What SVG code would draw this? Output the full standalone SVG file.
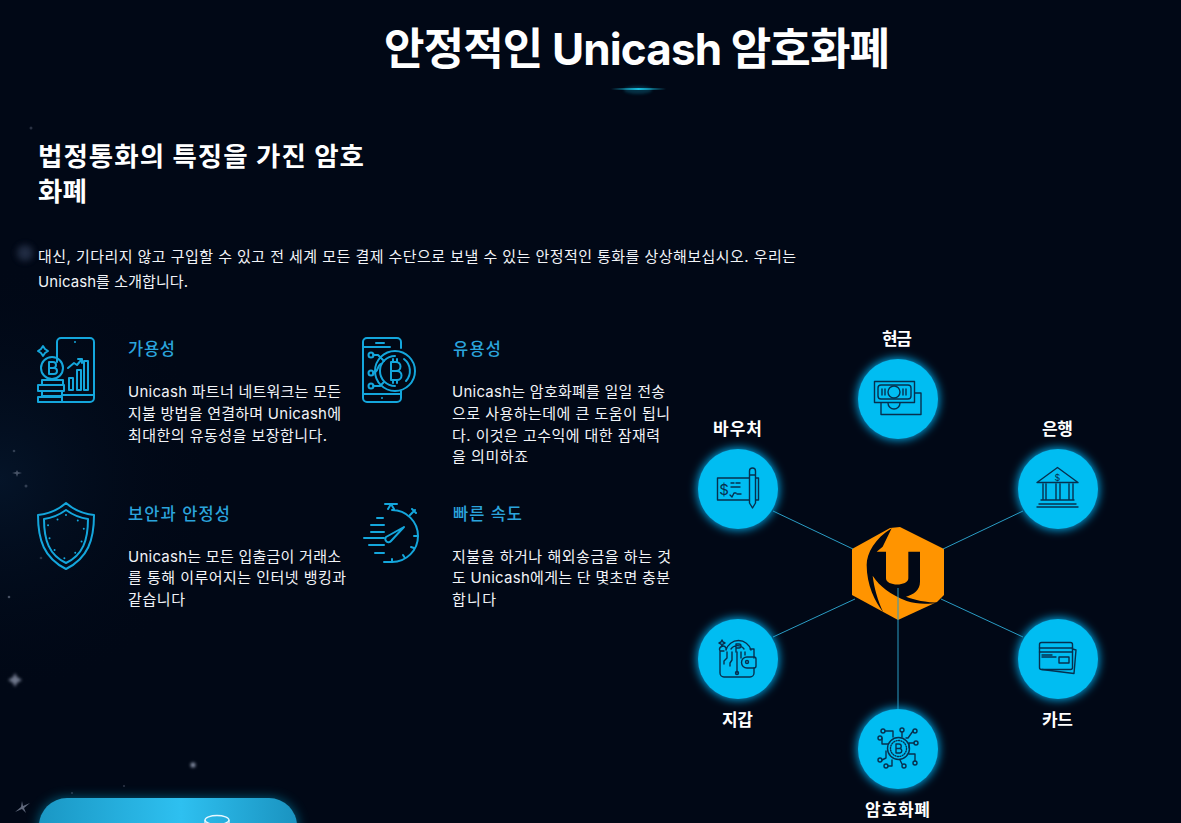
<svg xmlns="http://www.w3.org/2000/svg" width="1181" height="823" viewBox="0 0 1181 823">
<style>
text{font-family:"Inter","Noto Sans CJK KR",sans-serif;fill:#fff}
.h1{font-size:44px;font-weight:700}
.h2{font-size:26.500px;font-weight:700}
.p{font-size:15px;fill:#f2f4f8}
.ft{font-size:16.500px;fill:#2ba4dc;font-weight:500}
.lb{font-size:17px;font-weight:700}
.ic{fill:none;stroke:#14a6dc;stroke-width:2;stroke-linejoin:round;stroke-linecap:round}
.dk{fill:none;stroke:#06304f;stroke-width:1.400;stroke-linejoin:round;stroke-linecap:round}
.cn{stroke:#2a9cc4;stroke-width:1;fill:none}
.c{fill:#00bdf2}
.g{fill:#08a8e6;filter:url(#gl)}
.st{fill:#8a93a8}
</style>
<defs>
<filter id="gl" x="-40%" y="-40%" width="180%" height="180%"><feGaussianBlur stdDeviation="5"/></filter>
<filter id="gb" x="-20%" y="-60%" width="140%" height="220%"><feGaussianBlur stdDeviation="6"/></filter>
<filter id="sb" x="-100%" y="-100%" width="300%" height="300%"><feGaussianBlur stdDeviation="1.500"/></filter>
<filter id="sc" x="-100%" y="-100%" width="300%" height="300%"><feGaussianBlur stdDeviation="3"/></filter>
<radialGradient id="neb" cx="0" cy="480" r="220" gradientUnits="userSpaceOnUse"><stop offset="0" stop-color="#0b2a4a" stop-opacity=".35"/><stop offset="1" stop-color="#010816" stop-opacity="0"/></radialGradient>
<linearGradient id="btn" x1="0" x2="1" y1="0" y2="0"><stop offset="0" stop-color="#1a97c4"/><stop offset=".55" stop-color="#2ec0f0"/><stop offset="1" stop-color="#1a93c0"/></linearGradient>
<linearGradient id="ul" x1="0" x2="1" y1="0" y2="0"><stop offset="0" stop-color="#18b8d8" stop-opacity="0"/><stop offset=".5" stop-color="#18c0e0"/><stop offset="1" stop-color="#18b8d8" stop-opacity="0"/></linearGradient>
</defs>
<rect width="1181" height="823" fill="#010816"/>
<rect width="300" height="823" fill="url(#neb)"/>
<g id="stars">
<circle cx="25" cy="253" r="8" fill="#3a4a68" opacity=".55" filter="url(#sc)"/>
<circle class="st" cx="31" cy="128" r="1.500" opacity=".3"/>
<circle class="st" cx="9" cy="597" r="1.300" opacity=".5"/>
<path class="st" d="M15 673l2 4 5 3-5 3-2 4-2-4-5-3 5-3z" opacity=".8" filter="url(#sb)"/>
<circle class="st" cx="193" cy="765" r="2.500" filter="url(#sb)"/>
<path class="st" d="M22 801l1 5 7-3-6 5 2 5-4-4-7 3 6-5z" opacity=".7"/>
<path class="st" d="M17 470l1 2 4 1-4 1-1 3-1-3-4-1 4-1z" opacity=".5"/>
<circle class="st" cx="26" cy="486" r="1.500" opacity=".35"/>
<circle class="st" cx="14" cy="451" r="1.300" opacity=".35"/>
<circle class="st" cx="41" cy="558" r="1.300" opacity=".3"/>
<circle class="st" cx="124" cy="786" r="1" opacity=".35"/>
<circle class="st" cx="72" cy="793" r="1" opacity=".35"/>
</g>
<g id="title"><text class="h1" x="384" y="65" textLength="506" lengthAdjust="spacing">안정적인 Unicash 암호화폐</text>
<ellipse cx="638" cy="90" rx="14" ry="4" fill="#0a7f9f" opacity=".35" filter="url(#sb)"/>
<rect x="611" y="88" width="55" height="2" fill="url(#ul)"/></g>
<g id="intro">
<text class="h2" x="38" y="166" textLength="326" lengthAdjust="spacing">법정통화의 특징을 가진 암호</text>
<text class="h2" x="38" y="201" textLength="49" lengthAdjust="spacing">화폐</text>
<text class="p" x="38" y="262" textLength="758" lengthAdjust="spacing">대신, 기다리지 않고 구입할 수 있고 전 세계 모든 결제 수단으로 보낼 수 있는 안정적인 통화를 상상해보십시오. 우리는</text>
<text class="p" x="38" y="287" textLength="150" lengthAdjust="spacing">Unicash를 소개합니다.</text>
</g>
<g id="feature-availability">
<g class="ic"><path d="M57 362V342a4 4 0 0 1 4-4H90a4 4 0 0 1 4 4V398a4 4 0 0 1-4 4H62M62 395H94M75 342v0"/>
<circle cx="52" cy="368" r="11"/><path d="M49 362v12M49 362h4a3 3 0 0 1 0 6h-4M49 368h5a3 3 0 0 1 0 6h-5"/>
<rect x="42" y="380" width="21" height="5"/><rect x="38" y="385" width="26" height="6"/><rect x="42" y="391" width="20" height="5"/><rect x="38" y="397" width="24" height="5"/>
<rect x="69" y="378" width="4" height="12"/><rect x="77" y="370" width="4" height="20"/><rect x="84" y="361" width="4" height="29"/>
<path d="M68 368l6-5 3 2 5-6M78 359h4v4"/>
<path d="M43 346l2 3 3 2-3 2-2 3-2-3-3-2 3-2z"/></g>
<text class="ft" x="128" y="355" textLength="47" lengthAdjust="spacing">가용성</text>
<text class="p" x="128" y="397" textLength="213" lengthAdjust="spacing">Unicash 파트너 네트워크는 모든</text>
<text class="p" x="128" y="419" textLength="213" lengthAdjust="spacing">지불 방법을 연결하며 Unicash에</text>
<text class="p" x="128" y="441" textLength="199" lengthAdjust="spacing">최대한의 유동성을 보장합니다.</text>
</g>
<g id="feature-usability">
<g class="ic"><path d="M401 348V342a4 4 0 0 0-4-4H367a4 4 0 0 0-4 4V398a4 4 0 0 0 4 4H397a4 4 0 0 0 4-4V391M363 347H390M363 394H401M376 343h8M382 398v0"/>
<circle cx="395" cy="371" r="20"/><path d="M395 356a15 15 0 0 0 0 30M404 359a15 15 0 0 1 2 22"/>
<path d="M391 362v18M391 362h5a4 4 0 0 1 0 9h-5M391 371h6a4 4 0 0 1 0 9h-6M393 359v3M397 359v3M393 380v3M397 380v3"/>
<circle cx="371" cy="355" r="2.500"/><circle cx="371" cy="373" r="2.500"/><circle cx="371" cy="386" r="2.500"/>
<path d="M373 355h5l6 6M373 373c6-1 4-8 8-9M373 386h7l4-4"/></g>
<text class="ft" x="453" y="355" textLength="48" lengthAdjust="spacing">유용성</text>
<text class="p" x="452" y="397" textLength="213" lengthAdjust="spacing">Unicash는 암호화폐를 일일 전송</text>
<text class="p" x="452" y="419" textLength="218" lengthAdjust="spacing">으로 사용하는데에 큰 도움이 됩니</text>
<text class="p" x="452" y="441" textLength="208" lengthAdjust="spacing">다. 이것은 고수익에 대한 잠재력</text>
<text class="p" x="452" y="462" textLength="76" lengthAdjust="spacing">을 의미하죠</text>
</g>
<g id="feature-security">
<g class="ic"><path d="M66 503c8 7 18 11 28 12 0 25-6 43-28 54-22-11-28-29-28-54 10-1 20-5 28-12z"/>
<path d="M66 510c7 5 14 8 22 9 0 21-5 36-22 44-17-8-22-23-22-44 8-1 15-4 22-9z"/>
<path stroke-dasharray="0 13" d="M66 515c6 4 12 6 18 7 0 18-4 31-18 37-14-6-18-19-18-37 6-1 12-3 18-7z"/></g>
<text class="ft" x="128" y="520" textLength="102" lengthAdjust="spacing">보안과 안정성</text>
<text class="p" x="128" y="562" textLength="213" lengthAdjust="spacing">Unicash는 모든 입출금이 거래소</text>
<text class="p" x="128" y="583" textLength="218" lengthAdjust="spacing">를 통해 이루어지는 인터넷 뱅킹과</text>
<text class="p" x="128" y="605" textLength="57" lengthAdjust="spacing">같습니다</text>
</g>
<g id="feature-speed">
<g class="ic"><path d="M392 510a26 26 0 0 1 0 52h-8M385 504h12M388 509l3-5 3 5M410 515l5-5M412 509l4 4"/>
<path d="M377 518h6M371 525h13M371 532h13M364 538h20M369 545h15M375 553h9"/>
<path d="M404 527l-13 14a3 3 0 0 1-5-4z"/>
<path d="M392 562v-3M405 558l-2-3M414 548l-3-1M417 536h-3"/></g>
<text class="ft" x="453" y="520" textLength="69" lengthAdjust="spacing">빠른 속도</text>
<text class="p" x="452" y="562" textLength="219" lengthAdjust="spacing">지불을 하거나 해외송금을 하는 것</text>
<text class="p" x="452" y="583" textLength="218" lengthAdjust="spacing">도 Unicash에게는 단 몇초면 충분</text>
<text class="p" x="452" y="605" textLength="44" lengthAdjust="spacing">합니다</text>
</g>
<g id="node-logo">
<path d="M900 527L944 549V595L937 602L898 620L852 595V549L890 528z" fill="#ff9400"/>
<g transform="translate(840 515) scale(.3333)"><path fill="#010816" d="M155 40C105 70 80 115 80 150C80 210 105 260 130 292C112 255 102 215 98 182C120 215 150 238 200 258C230 268 260 268 300 263C255 262 225 255 198 245C222 238 240 225 240 200V110H205V190C205 215 138 215 138 190V110H110L128 95z"/></g>
</g>
<g id="connectors">
<path class="cn" d="M773 511L853 549M1023 511L943 549M773 637L855 599M1023 637L941 599M898 588V709"/>
</g>
<g id="node-cash"><circle class="g" cx="898" cy="399" r="41"/><circle class="c" cx="898" cy="399" r="40"/>
<g class="dk"><rect x="874.500" y="381.500" width="40" height="21"/><path d="M915 393H921V414.500H881V403"/><rect x="878" y="385" width="33" height="14" rx="3"/><circle cx="894" cy="392" r="6"/><path d="M882 389v6M885 389v6M906 389v6M903 389v6M888 403a6 6 0 0 0 12 0"/></g>
<text class="lb" x="882" y="345" textLength="30" lengthAdjust="spacing">현금</text></g>
<g id="node-bank"><circle class="g" cx="1058" cy="489" r="41"/><circle class="c" cx="1058" cy="489" r="40"/>
<g class="dk"><path d="M1037 482.500L1057.500 467.500L1078 482.500zM1043 484v16M1046 484v16M1056 484v16M1060 484v16M1069 484v16M1073 484v16M1041 500h33M1039 504h37M1037 507h41"/></g>
<text x="1057.500" y="481" font-size="9" text-anchor="middle" style="fill:#06304f">$</text>
<text class="lb" x="1042" y="435" textLength="31" lengthAdjust="spacing">은행</text></g>
<g id="node-voucher"><circle class="g" cx="738" cy="489" r="41"/><circle class="c" cx="738" cy="489" r="40"/>
<g class="dk"><path d="M749 478H717.500V500H749M756 478H758.500V500H756"/><path d="M749.500 471a3 3 0 0 1 6 0V503l-3 5-3-5zM749.500 475h6M731 483h3M736 483h4M731 487h9M730 495l2 2 2-4h2M737 494h4"/></g>
<text x="724" y="495" font-size="15" text-anchor="middle" style="fill:#06304f">$</text>
<text class="lb" x="713" y="435" textLength="49" lengthAdjust="spacing">바우처</text></g>
<g id="node-wallet"><circle class="g" cx="738" cy="659" r="41"/><circle class="c" cx="738" cy="659" r="40"/>
<g class="dk"><path d="M726 650v-2a3 3 0 0 0-6 3V673a4 4 0 0 0 4 4H750a4 4 0 0 0 4-4V668M754 658V649H750M720 651h4M726 650a13 13 0 0 1 25 0"/><path d="M731 649a8 8 0 0 1 13 0M736 644v8M736 644h3a2 2 0 0 1 0 4h-3"/><path d="M747 657h7a2 2 0 0 1 2 2v7a2 2 0 0 1-2 2h-7a5 5 0 0 1 0-11z"/><circle cx="747" cy="662" r="1.500"/><path d="M727 652v6l-3 3v3M732 652v8l-2 3v3M737 652v21M741 652v6M745 652v3M722 640l1 2 2 1-2 1-1 2-1-2-2-1 2-1z"/><circle cx="737" cy="673" r="1.500"/></g>
<text class="lb" x="722" y="726" textLength="31" lengthAdjust="spacing">지갑</text></g>
<g id="node-card"><circle class="g" cx="1058" cy="659" r="41"/><circle class="c" cx="1058" cy="659" r="40"/>
<g class="dk"><rect x="1039.500" y="642.500" width="33" height="27" rx="2"/><path d="M1072.500 649L1076 650L1074 673.500L1042 669.500M1039.500 648H1072.500M1039.500 652H1072.500M1042 655h10M1042 657h14"/><rect x="1059" y="657" width="10" height="6"/></g>
<text class="lb" x="1042" y="726" textLength="31" lengthAdjust="spacing">카드</text></g>
<g id="node-crypto"><circle class="g" cx="898" cy="749" r="41"/><circle class="c" cx="898" cy="749" r="40"/>
<g class="dk"><circle cx="898.500" cy="748.500" r="11"/><circle cx="898.500" cy="748.500" r="8" stroke-dasharray="1 1.500"/>
<path d="M896 744v9M896 744h3a2 2 0 0 1 0 4.500h-3M896 748.500h4a2.300 2.300 0 0 1 0 4.500h-4"/>
<g fill="#00bdf2"><circle cx="883" cy="731" r="2"/><circle cx="902" cy="730" r="2"/><circle cx="915" cy="731" r="2"/><circle cx="880" cy="738" r="2"/><circle cx="916" cy="743" r="2"/><circle cx="880" cy="760" r="2"/><circle cx="886" cy="766" r="2"/><circle cx="904" cy="766" r="2"/><circle cx="915" cy="763" r="2"/></g>
<path d="M885 731h8v6M902 732v5M913 731l-5 7h-2M882 738v6h6M914 743h-5v5M882 760l4-2v-7M888 766h4v-6M902 764l-2-4M915 761v-7h-6"/></g>
<text class="lb" x="865" y="816" textLength="65" lengthAdjust="spacing">암호화폐</text></g>
<g id="button">
<rect x="38" y="798" width="260" height="60" rx="28" fill="#0a8fb8" opacity=".6" filter="url(#gb)"/>
<rect x="39" y="798" width="258" height="60" rx="28" fill="url(#btn)"/>
<ellipse cx="217" cy="820" rx="12" ry="4.500" fill="none" stroke="#e8f8ff" stroke-width="1.300"/>
<path d="M205 820v10M229 820v10" stroke="#e8f8ff" stroke-width="1.300" fill="none"/>
</g>
</svg>
